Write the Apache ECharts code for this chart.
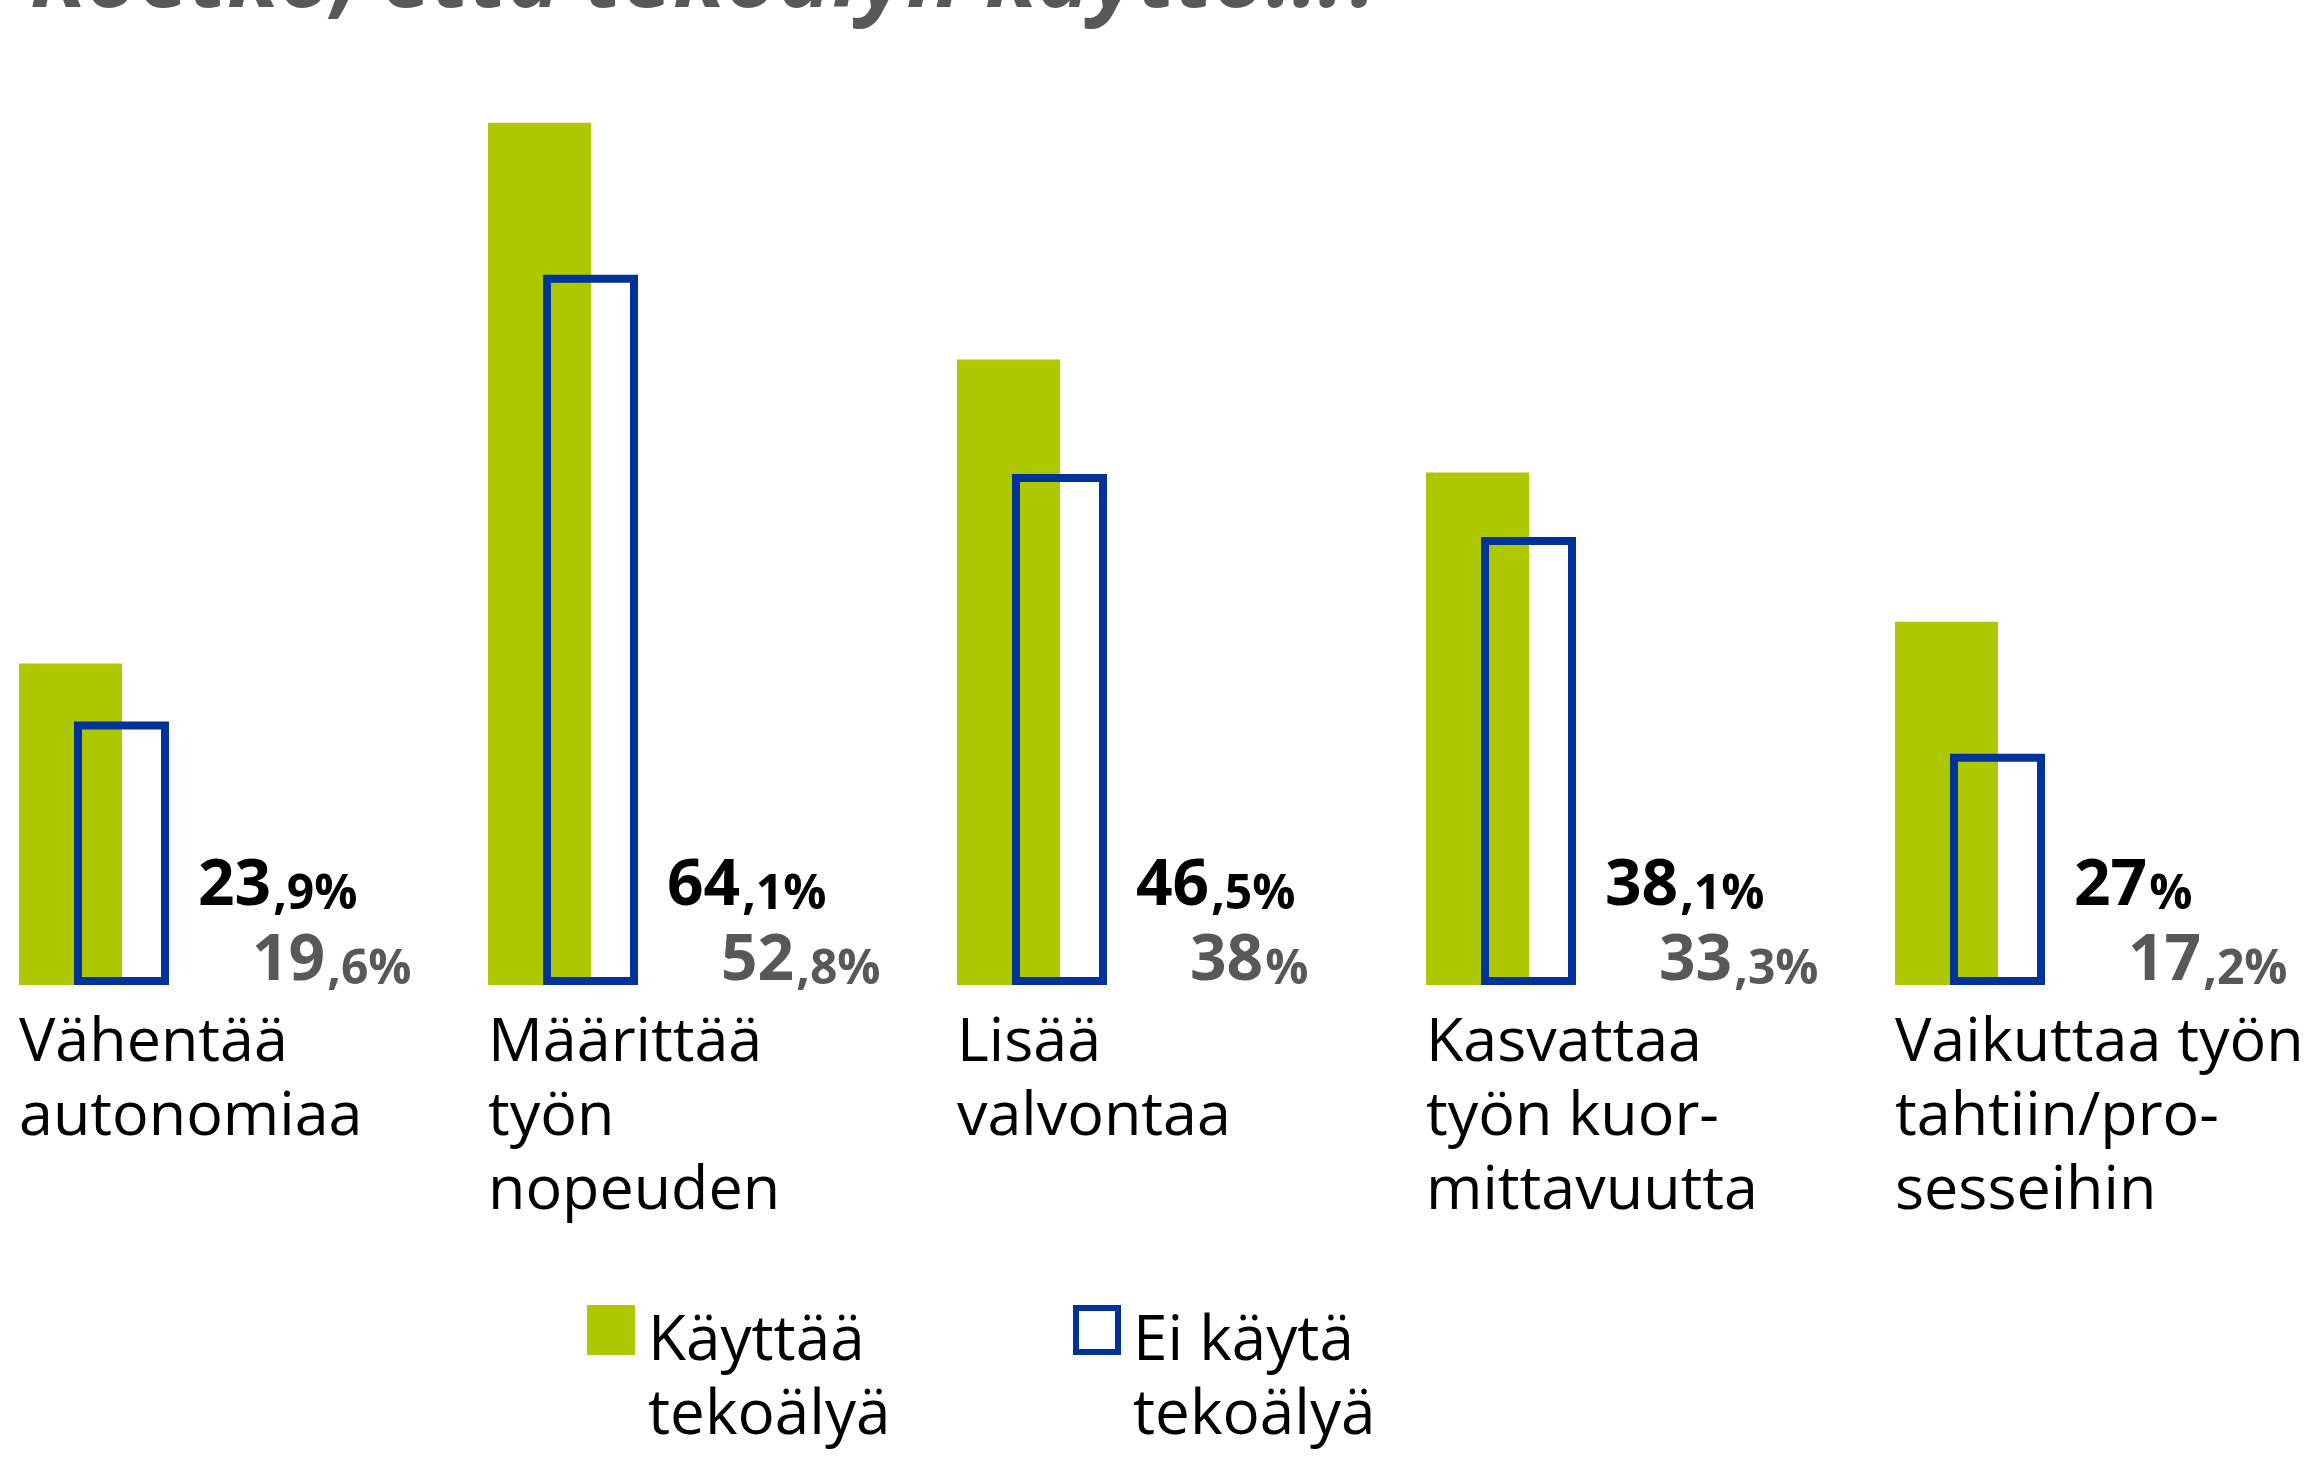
<!DOCTYPE html>
<html>
<head>
<meta charset="utf-8">
<script src="https://cdn.jsdelivr.net/npm/echarts@6/dist/echarts.min.js"></script>
<style>
  html, body { margin: 0; padding: 0; background: #fff; }
</style>
</head>
<body>
<div id="myChart" style="width: 2316px; height: 1480px;"></div>
<script>
  // data
  const categories = [
    'Vähentää\nautonomiaa',
    'Määrittää\ntyön\nnopeuden',
    'Lisää\nvalvontaa',
    'Kasvattaa\ntyön kuor-\nmittavuutta',
    'Vaikuttaa työn\ntahtiin/pro-\nsesseihin'
  ];
  const kayttaa = [23.9, 64.1, 46.5, 38.1, 27];
  const eiKayta = [19.6, 52.8, 38, 33.3, 17.2];
  const seriesNames = ['Käyttää\ntekoälyä', 'Ei käytä\ntekoälyä'];
  const titleText = 'Koetko, että tekoälyn käyttö...?';

  const FONT = '"Open Sans", "Noto Sans", sans-serif';
  const GREEN = '#adc700';
  const BLUE = '#003399';
  const GRAY = '#58585a';

  // "23,9%" -> big integer part, small decimal part
  function pct(p) {
    const parts = String(p.value).split('.');
    return '{b|' + parts[0] + '}{s|' + (parts[1] ? ',' + parts[1] : '') + '%}';
  }

  function numRich(color) {
    return {
      b: { fontSize: 64, fontWeight: 'bold', color: color, fontFamily: FONT, lineHeight: 62, verticalAlign: 'bottom' },
      s: { fontSize: 48, fontWeight: 'bold', color: color, fontFamily: FONT, lineHeight: 51, verticalAlign: 'bottom', padding: [0, 0, 0, 2] }
    };
  }

  // blank first line keeps the first text line level with the icon
  function legendLines(name) {
    return ['{g| }'].concat(name.split('\n').map(function (l) { return '{a|' + l + '}'; })).join('\n');
  }

  function legendText(padLeft) {
    return {
      color: '#000',
      rich: {
        g: { fontSize: 20, lineHeight: 98 },
        a: { fontSize: 62, lineHeight: 74, color: '#000', fontFamily: FONT, padding: [0, 0, 0, padLeft] }
      }
    };
  }

  let myChart = echarts.init(document.getElementById('myChart'));

  myChart.setOption({
    animation: false,
    backgroundColor: '#fff',
    graphic: [{
      type: 'text',
      x: 30,
      y: -19,
      scaleX: 0.99,
      style: {
        text: titleText,
        font: 'italic bold 92px "Open Sans"',
        fill: GRAY,
        verticalAlign: 'middle'
      }
    }],
    legend: [
      {
        data: [seriesNames[0]],
        left: 587,
        top: 1246,
        padding: 0,
        icon: 'rect',
        itemWidth: 48,
        itemHeight: 50,
        selectedMode: false,
        formatter: legendLines,
        textStyle: legendText(8)
      },
      {
        data: [seriesNames[1]],
        left: 1073,
        top: 1246,
        padding: 0,
        icon: 'rect',
        itemWidth: 42,
        itemHeight: 44,
        selectedMode: false,
        itemStyle: { borderWidth: 6, borderColor: BLUE },
        formatter: legendLines,
        textStyle: legendText(10)
      }
    ],
    grid: {
      left: -140.5,
      right: 111.5,
      top: 43.5,
      bottom: 495,
      containLabel: false,
      outerBoundsMode: 'none'
    },
    xAxis: {
      type: 'category',
      data: categories,
      axisLine: { show: false },
      axisTick: { show: false },
      splitLine: { show: false },
      axisLabel: {
        interval: 0,
        margin: 22,
        formatter: function (v) {
          return v.split('\n').map(function (l) { return '{a|' + l + '}'; }).join('\n');
        },
        rich: {
          a: { width: 150, align: 'left', fontSize: 61, lineHeight: 74, color: '#000', fontFamily: FONT }
        }
      }
    },
    yAxis: {
      type: 'value',
      min: 0,
      max: 70,
      show: false,
      splitLine: { show: false }
    },
    series: [
      {
        name: seriesNames[0],
        type: 'bar',
        barWidth: 103,
        barGap: '-46.6%',
        data: kayttaa,
        itemStyle: { color: GREEN },
        label: {
          show: true,
          position: 'insideBottomLeft',
          distance: 0,
          offset: [179, -66],
          align: 'left',
          verticalAlign: 'bottom',
          formatter: pct,
          rich: numRich('#000')
        }
      },
      {
        name: seriesNames[1],
        type: 'bar',
        barWidth: 95,
        data: eiKayta,
        itemStyle: { color: 'rgba(0,0,0,0)', borderColor: BLUE, borderWidth: 8 },
        label: {
          show: true,
          position: 'insideBottomLeft',
          distance: 0,
          offset: [178, 9],
          align: 'left',
          verticalAlign: 'bottom',
          formatter: pct,
          rich: numRich(GRAY)
        }
      }
    ]
  });
</script>
</body>
</html>
